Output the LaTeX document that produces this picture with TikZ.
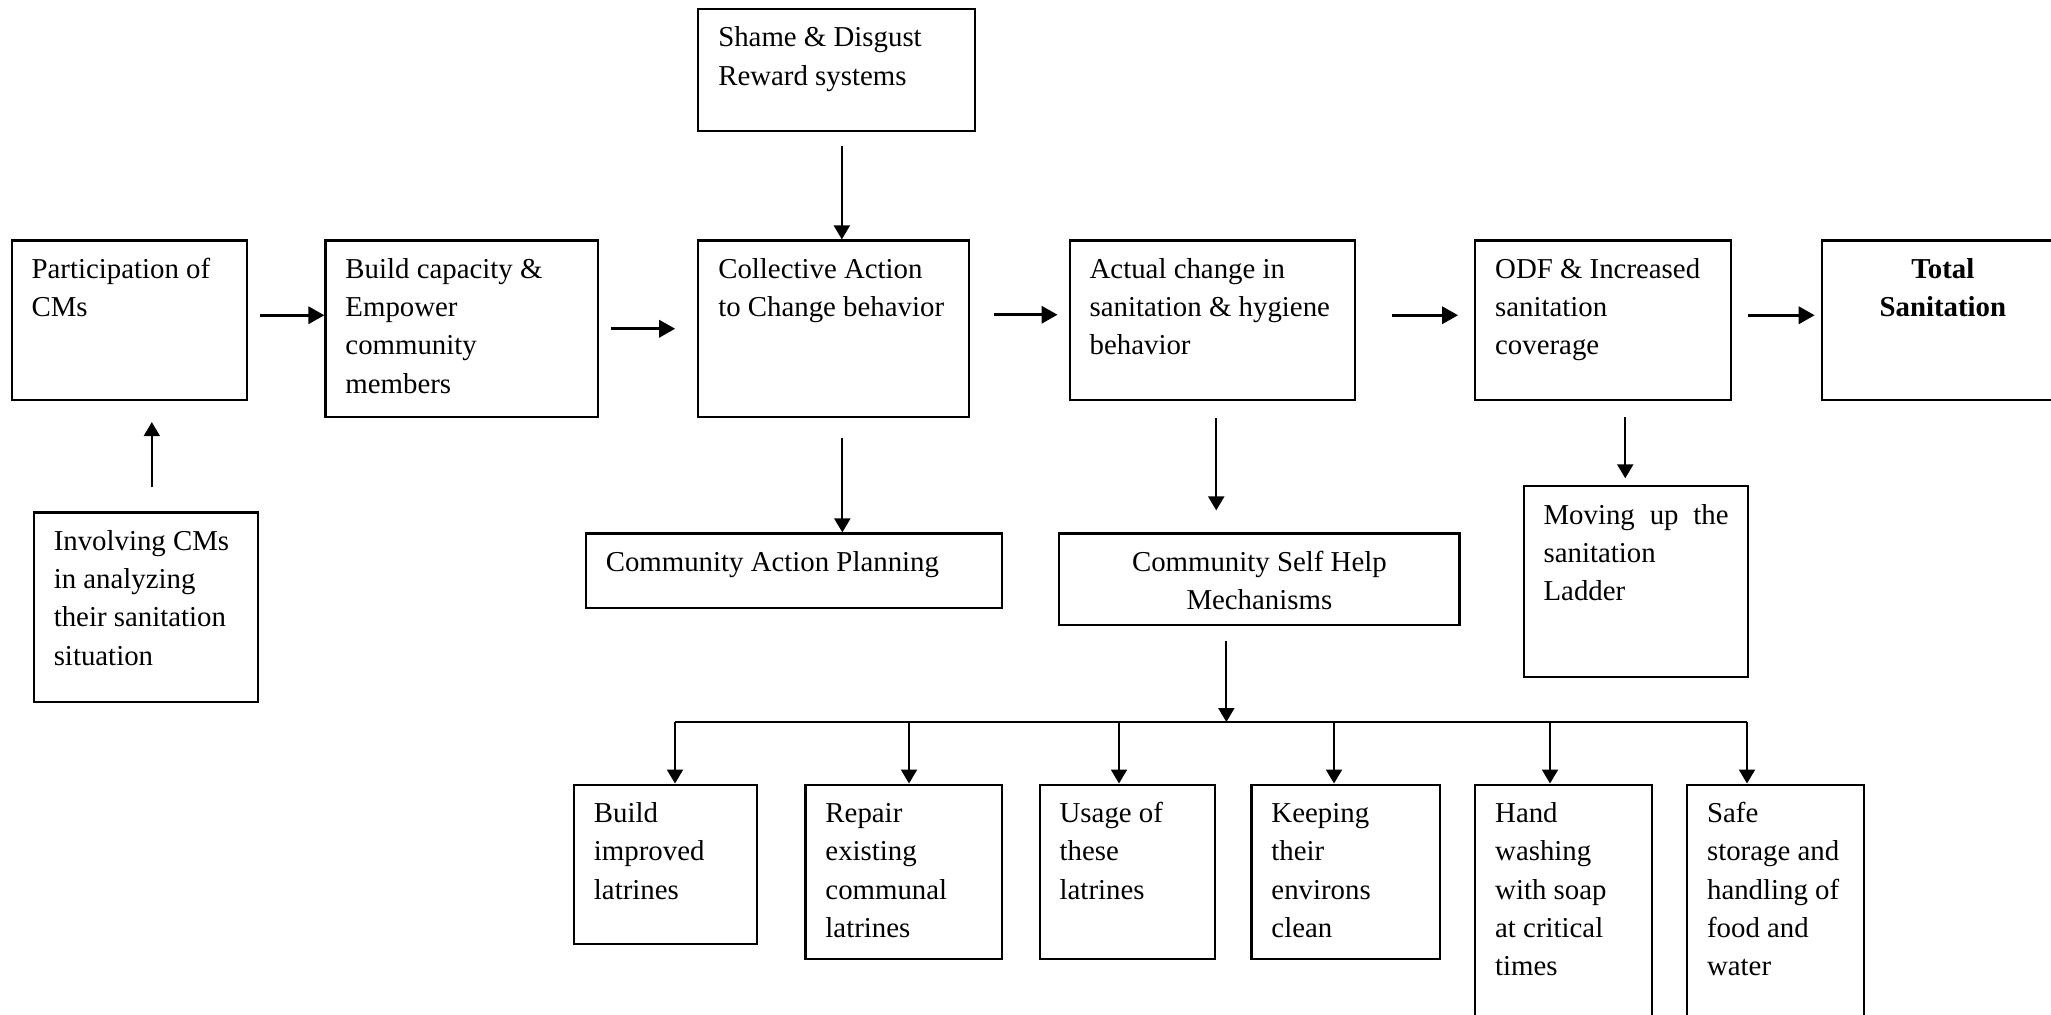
\documentclass[tikz,border=0pt]{standalone}
\usepackage{fontspec}
\setmainfont{Liberation Serif}
\usetikzlibrary{arrows.meta}

% text of a box: width, height, lines
\newcommand{\boxtext}[3]{\parbox[t][#2][t]{#1}{\raggedright\leftskip=0.2cm\strut#3}}
\newcommand{\boxtextc}[3]{\parbox[t][#2][t]{#1}{\centering\strut#3}}

\begin{document}
\begin{tikzpicture}[x=0.01cm,y=-0.01cm,
  font=\fontsize{8.2}{10.9}\selectfont,
  box/.style={draw,line width=0.6pt,inner xsep=0pt,inner ysep=0.11cm,anchor=north west},
  bigarrow/.style={line width=0.95pt,-{Triangle[length=0.16cm,width=0.17cm]}},
  thinarrow/.style={line width=0.6pt,-{Triangle[length=0.14cm,width=0.16cm]}}]

\useasboundingbox (0,0) rectangle (2051,1015);
\clip (0,0) rectangle (2051,1015);

%main row
  \node[box] (part) at (10.5,239.4) {\boxtext{2.35cm}{1.375cm}{Participation of\\CMs}};
  \node[box] (build) at (324.4,239.4) {\boxtext{2.72cm}{1.545cm}{Build capacity \&\\Empower\\community\\members}};
  \node[box] (coll) at (697.2,239.4) {\boxtext{2.71cm}{1.545cm}{Collective Action\\to Change behavior}};
  \node[box] (actual) at (1068.6,239.4) {\boxtext{2.85cm}{1.375cm}{Actual change in\\sanitation \& hygiene\\behavior}};
  \node[box] (odf) at (1474.1,239.4) {\boxtext{2.56cm}{1.375cm}{ODF \& Increased\\sanitation\\coverage}};
  \node[box] (total) at (1820.7,239.4) {\boxtextc{2.42cm}{1.375cm}{\bfseries Total\\Sanitation}};

%boxes above and below the row
  \node[box] (shame) at (697.2,7.8) {\boxtext{2.77cm}{0.997cm}{Shame \& Disgust\\Reward systems}};
  \node[box] (invol) at (32.7,511.4) {\boxtext{2.24cm}{1.677cm}{Involving CMs\\in analyzing\\their sanitation\\situation}};
  \node[box] (cap) at (584.7,532.4) {\boxtext{4.16cm}{0.525cm}{Community Action Planning}};
  \node[box] (selfh) at (1058.2,532.4) {\boxtextc{4.00cm}{0.695cm}{Community Self Help\\Mechanisms}};
  \node[box] (ladder) at (1522.5,485.3) {\parbox[t][1.689cm][t]{2.24cm}{\leftskip=0.2cm\rightskip=0.19cm\strut Moving up the\linebreak sanitation\newline Ladder}};

%self help activities
  \node[box] (b1) at (572.9,783.5) {\boxtext{1.83cm}{1.376cm}{Build\\improved\\latrines}};
  \node[box] (b2) at (804.4,783.5) {\boxtext{1.96cm}{1.52cm}{Repair\\existing\\communal\\latrines}};
  \node[box] (b3) at (1038.6,783.5) {\boxtext{1.75cm}{1.52cm}{Usage of\\these\\latrines}};
  \node[box] (b4) at (1250.4,783.5) {\boxtext{1.88cm}{1.52cm}{Keeping\\their\\environs\\clean}};
  \node[box] (b5) at (1474.1,783.5) {\boxtext{1.77cm}{2.3cm}{Hand\\washing\\with soap\\at critical\\times}};
  \node[box] (b6) at (1686.0,783.5) {\boxtext{1.77cm}{2.3cm}{Safe\\storage and\\handling of\\food and\\water}};

%thick arrows along the row
  \draw[bigarrow,shorten <=0.12cm] ([yshift=0.05cm]part.east) -- ([yshift=0.05cm]part.east -| build.west);
  \draw[bigarrow,shorten <=0.12cm,shorten >=0.22cm] (build.east) -- (build.east -| coll.west);
  \draw[bigarrow,shorten <=0.24cm,shorten >=0.11cm] ([yshift=0.14cm]coll.east) -- ([yshift=0.14cm]coll.east -| actual.west);
  \draw[bigarrow,shorten <=0.36cm,shorten >=0.16cm] ([yshift=0.05cm]actual.east) -- ([yshift=0.05cm]actual.east -| odf.west);
  \draw[bigarrow,shorten <=0.16cm,shorten >=0.06cm] ([yshift=0.05cm]odf.east) -- ([yshift=0.05cm]odf.east -| total.west);

%thin arrows
  \draw[thinarrow,shorten <=0.145cm] ([xshift=0.05cm]shame.south) -- ([xshift=0.05cm]shame.south |- coll.north);
  \draw[thinarrow,shorten <=0.24cm,shorten >=0.21cm] ([xshift=0.06cm]invol.north) -- ([xshift=0.06cm]invol.north |- part.south);
  \draw[thinarrow,shorten <=0.2cm] ([xshift=0.085cm]coll.south) -- ([xshift=0.085cm]coll.south |- cap.north);
  \draw[thinarrow,shorten <=0.17cm,shorten >=0.22cm] ([xshift=0.04cm]actual.south) -- ([xshift=0.04cm]actual.south |- selfh.north);
  \draw[thinarrow,shorten <=0.16cm,shorten >=0.07cm] ([xshift=0.22cm]odf.south) -- ([xshift=0.22cm]odf.south |- ladder.north);

%bus to the activities
  \coordinate (busL) at (675,722);
  \coordinate (busR) at (1747,722);
  \draw[line width=0.6pt] (busL) -- (busR);
  \draw[thinarrow,shorten <=0.15cm] ([xshift=-0.33cm]selfh.south) -- ([xshift=-0.33cm]selfh.south |- busL);
  \foreach \x/\b in {675/b1,909/b2,1119/b3,1334/b4,1550/b5,1747/b6}
    \draw[thinarrow] (\x,0 |- busL) -- (\x,0 |- \b.north);

\end{tikzpicture}
\end{document}
